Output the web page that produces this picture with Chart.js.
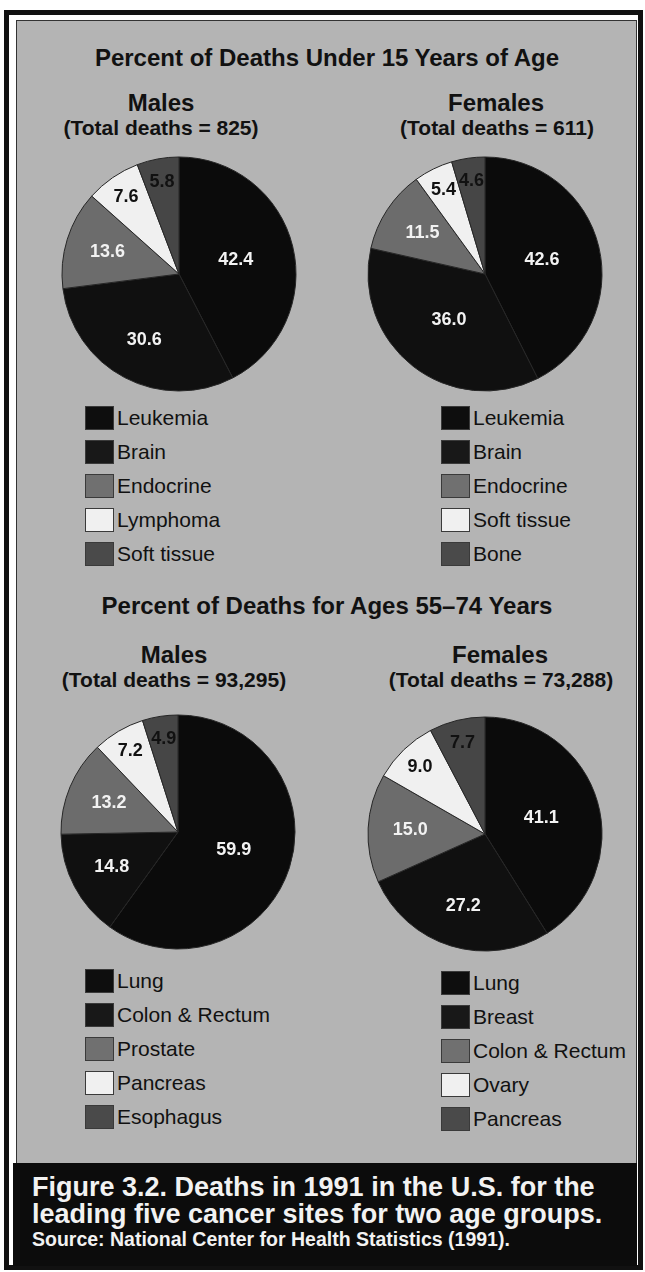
<!DOCTYPE html>
<html>
<head>
<meta charset="utf-8">
<script src="https://cdn.jsdelivr.net/npm/chart.js@4.4.1/dist/chart.umd.min.js"></script>
<style>
  body { margin: 0; width: 645px; height: 1272px; position: relative; overflow: hidden; background: #fff;
         font-family: "Liberation Sans", Arial, Helvetica, sans-serif; color: #111; }
  #frame { position: absolute; left: 4px; top: 10px; width: 639px; height: 1260px; box-sizing: border-box;
           border: 5px solid #111; background: #fff; }
  #panel { position: absolute; left: 16px; top: 20px; width: 621px; height: 1145px; box-sizing: border-box;
           border: 1px solid #333; background: #b4b4b4; }
  #caption { position: absolute; left: 13px; top: 1163px; width: 624px; height: 103px; background: #0c0c0c; }
  .t { position: absolute; transform: translate(-50%, -50%); white-space: nowrap; font-weight: bold; }
  .h1 { font-size: 24px; }
  .h2 { font-size: 24px; }
  .h3 { font-size: 21px; }
  canvas { position: absolute; }
  .legend { position: absolute; }
  .item { position: absolute; left: 0; white-space: nowrap; font-size: 21px; line-height: 24px; }
  .item span { display: inline-block; width: 29px; height: 24px; box-sizing: border-box; border: 1px solid #3a3a3a;
               vertical-align: top; margin-right: 3px; }
  .cap { position: absolute; left: 32px; white-space: nowrap; color: #f2f2f2; font-weight: bold; }
</style>
</head>
<body>
<div id="frame"></div>
<div id="panel"></div>
<div id="caption"></div>

<div class="t h1" style="left:327px; top:58px;">Percent of Deaths Under 15 Years of Age</div>
<div class="t h2" style="left:161px; top:103px;">Males</div>
<div class="t h3" style="left:161px; top:128px;">(Total deaths = 825)</div>
<div class="t h2" style="left:496px; top:103px;">Females</div>
<div class="t h3" style="left:497px; top:128px;">(Total deaths = 611)</div>

<div class="t h1" style="left:327px; top:606px;">Percent of Deaths for Ages 55–74 Years</div>
<div class="t h2" style="left:174px; top:655px;">Males</div>
<div class="t h3" style="left:174px; top:680px;">(Total deaths = 93,295)</div>
<div class="t h2" style="left:500px; top:655px;">Females</div>
<div class="t h3" style="left:501px; top:680px;">(Total deaths = 73,288)</div>

<canvas id="pieMaleYoung" width="250" height="250" style="left:54px; top:149px;"></canvas>
<canvas id="pieFemaleYoung" width="250" height="250" style="left:360px; top:149px;"></canvas>
<canvas id="pieMaleOld" width="250" height="250" style="left:53px; top:707px;"></canvas>
<canvas id="pieFemaleOld" width="250" height="250" style="left:360px; top:709px;"></canvas>

<div class="legend" id="legMaleYoung" style="left:85px; top:406px;"></div>
<div class="legend" id="legFemaleYoung" style="left:441px; top:406px;"></div>
<div class="legend" id="legMaleOld" style="left:85px; top:969px;"></div>
<div class="legend" id="legFemaleOld" style="left:441px; top:971px;"></div>

<div class="cap" style="top:1172px; font-size:27px; line-height:30px;">Figure 3.2. Deaths in 1991 in the U.S. for the</div>
<div class="cap" style="top:1199px; font-size:27px; line-height:30px;">leading five cancer sites for two age groups.</div>
<div class="cap" style="top:1228px; font-size:19.5px; line-height:22px;">Source: National Center for Health Statistics (1991).</div>

<script>
// Under 15 years
const maleYoungLabels = ['Leukemia', 'Brain', 'Endocrine', 'Lymphoma', 'Soft tissue'];
const maleYoungValues = [42.4, 30.6, 13.6, 7.6, 5.8];
const femaleYoungLabels = ['Leukemia', 'Brain', 'Endocrine', 'Soft tissue', 'Bone'];
const femaleYoungValues = [42.6, 36.0, 11.5, 5.4, 4.6];

// Ages 55-74
const maleOldLabels = ['Lung', 'Colon & Rectum', 'Prostate', 'Pancreas', 'Esophagus'];
const maleOldValues = [59.9, 14.8, 13.2, 7.2, 4.9];
const femaleOldLabels = ['Lung', 'Breast', 'Colon & Rectum', 'Ovary', 'Pancreas'];
const femaleOldValues = [41.1, 27.2, 15.0, 9.0, 7.7];

// same shading order in every pie
const sliceColors = ['#0b0b0b', '#101010', '#6c6c6c', '#f0f0f0', '#464646'];
const legendColors = ['#0e0e0e', '#181818', '#707070', '#f0f0f0', '#4a4a4a'];
const labelColors = ['#f2f2f2', '#f2f2f2', '#f2f2f2', '#111', '#111'];

// value labels inside the slices
const valueLabels = {
    id: 'valueLabels',
    afterDatasetsDraw(chart) {
        const ctx = chart.ctx;
        const values = chart.data.datasets[0].data;
        const total = values.reduce((a, b) => a + b, 0);
        ctx.save();
        ctx.font = 'bold 18px "Liberation Sans", Arial, sans-serif';
        ctx.textAlign = 'center';
        ctx.textBaseline = 'middle';
        chart.getDatasetMeta(0).data.forEach((arc, i) => {
            const p = arc.getProps(['x', 'y', 'startAngle', 'endAngle', 'outerRadius']);
            const frac = values[i] / total;
            const mid = (p.startAngle + p.endAngle) / 2;
            // small slices get their label pushed out toward the rim
            const k = frac < 0.1 ? 0.8 : frac < 0.35 ? 0.64 : 0.5;
            ctx.fillStyle = labelColors[i];
            ctx.fillText(values[i].toFixed(1), p.x + Math.cos(mid) * p.outerRadius * k,
                         p.y + Math.sin(mid) * p.outerRadius * k);
        });
        ctx.restore();
    }
};

function makePie(id, labels, values) {
    return new Chart(document.getElementById(id), {
        type: 'pie',
        data: {
            labels: labels,
            datasets: [{
                data: values,
                backgroundColor: sliceColors,
                borderColor: '#262626',
                borderWidth: 1,
                radius: 117
            }]
        },
        options: {
            responsive: false,
            animation: false,
            layout: { padding: 0 },
            plugins: {
                legend: { display: false },
                tooltip: { enabled: false }
            }
        },
        plugins: [valueLabels]
    });
}

function makeLegend(id, labels) {
    const box = document.getElementById(id);
    labels.forEach((label, i) => {
        const row = document.createElement('div');
        row.className = 'item';
        row.style.top = (i * 34) + 'px';
        const sw = document.createElement('span');
        sw.style.background = legendColors[i];
        row.appendChild(sw);
        row.appendChild(document.createTextNode(label));
        box.appendChild(row);
    });
}

makePie('pieMaleYoung', maleYoungLabels, maleYoungValues);
makePie('pieFemaleYoung', femaleYoungLabels, femaleYoungValues);
makePie('pieMaleOld', maleOldLabels, maleOldValues);
makePie('pieFemaleOld', femaleOldLabels, femaleOldValues);

makeLegend('legMaleYoung', maleYoungLabels);
makeLegend('legFemaleYoung', femaleYoungLabels);
makeLegend('legMaleOld', maleOldLabels);
makeLegend('legFemaleOld', femaleOldLabels);
</script>
</body>
</html>
